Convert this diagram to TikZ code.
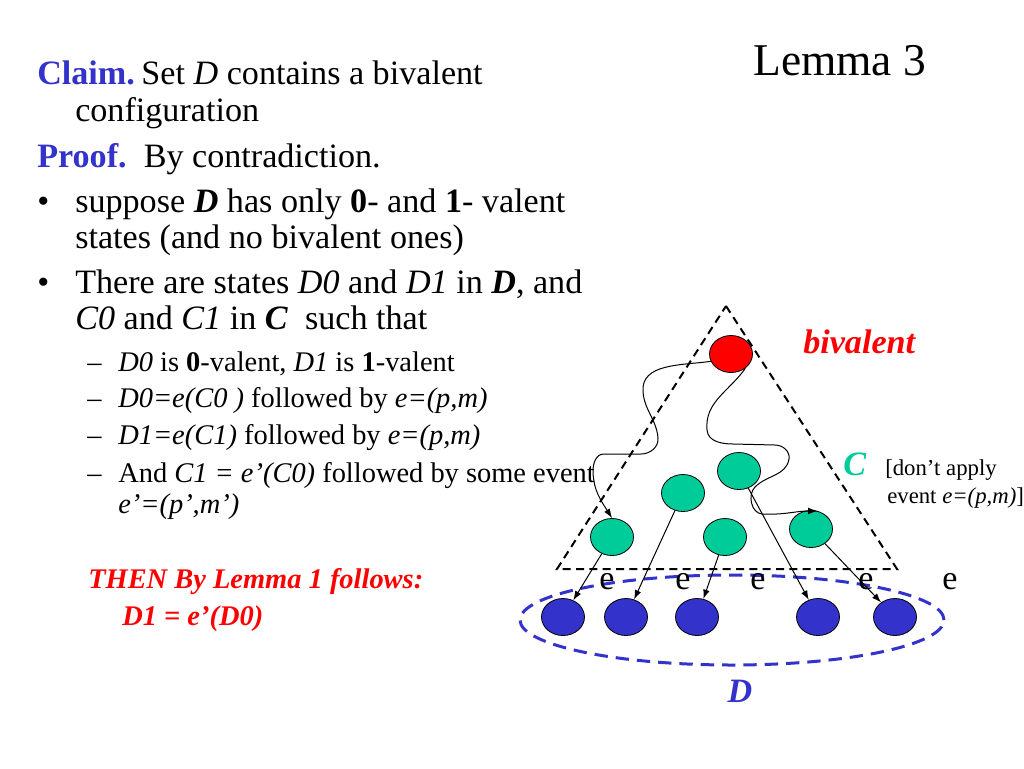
\documentclass[tikz,border=0pt]{standalone}
\usepackage{fontspec}
\setmainfont{Liberation Serif}
\usetikzlibrary{arrows.meta,shapes.geometric}
\definecolor{myblue}{RGB}{51,51,204}
\definecolor{myred}{RGB}{255,0,0}
\definecolor{mygreen}{RGB}{0,204,153}
\begin{document}
\begin{tikzpicture}[x=0.75pt,y=0.75pt,
  maintxt/.style={anchor=base west,inner sep=0pt,font=\fontsize{25.6}{30}\selectfont},
  subtxt/.style={anchor=base west,inner sep=0pt,font=\fontsize{21.33}{25}\selectfont},
  smalltxt/.style={anchor=base west,inner sep=0pt,font=\fontsize{17.07}{20}\selectfont},
  elab/.style={anchor=base,inner sep=0pt,font=\fontsize{25.6}{30}\selectfont},
  state/.style={ellipse,draw=black,line width=0.6pt,minimum width=32.25pt,minimum height=27.75pt,inner sep=0pt},
  redst/.style={state,fill=myred},
  greenst/.style={state,fill=mygreen},
  bluest/.style={state,fill=myblue},
  arr/.style={-{Latex[length=7pt,width=5pt]},line width=0.75pt,black},
  tri/.style={dash pattern=on 6pt off 4pt,line width=1.5pt,black},
  dset/.style={dash pattern=on 10pt off 6pt,line width=2.25pt,myblue}
]
\useasboundingbox (0,0) rectangle (1024,-768);
\fill[white] (0,0) rectangle (1024,-768);

% ---------- left text ----------
\node[maintxt] (claim) at (37,-84) {\textcolor{myblue}{\textbf{Claim.}}\kern-1.5pt\ Set \textit{D} contains a bivalent};
\node[maintxt] (config) at (75,-121) {configuration};
\node[maintxt] (proof) at (37,-167) {\textcolor{myblue}{\textbf{Proof.}}\ \ By contradiction.};
\node[maintxt] (bul1) at (37,-212) {•};
\node[maintxt] (sup1) at (75,-212) {suppose \textbf{\textit{D}} has only \textbf{0}- and \textbf{1}- valent};
\node[maintxt] (sup2) at (75,-248) {states (and no bivalent ones)};
\node[maintxt] (bul2) at (37,-293) {•};
\node[maintxt] (there1) at (75,-293) {There are states \textit{D0} and \textit{D1} in \textbf{\textit{D}}, and};
\node[maintxt] (there2) at (75,-329) {\textit{C0} and \textit{C1} in \textbf{\textit{C}}\ \ such that};

\node[subtxt] (da1) at (87,-371) {–};
\node[subtxt] (s1) at (118,-371) {\textit{D0} is \textbf{0}-valent, \textit{D1} is \textbf{1}-valent};
\node[subtxt] (da2) at (87,-407) {–};
\node[subtxt] (s2) at (118,-407) {\textit{D0=e(C0 )} followed by \textit{e=(p,m)}};
\node[subtxt] (da3) at (87,-444) {–};
\node[subtxt] (s3) at (118,-444) {\textit{D1=e(C1)} followed by \textit{e=(p,m)}};
\node[subtxt] (da4) at (87,-482) {–};
\node[subtxt] (s4) at (118,-482) {And \textit{C1 = e’(C0)} followed by some event};
\node[subtxt] (s5) at (118,-513) {\textit{e’=(p’,m’)}};

\node[subtxt,text=myred,font=\fontsize{21.33}{25}\selectfont\bfseries\itshape] (then) at (88,-588) {THEN By Lemma 1 follows:};
\node[subtxt,text=myred,font=\fontsize{21.33}{25}\selectfont\bfseries\itshape] (res) at (122,-625) {D1 = e’(D0)};

% ---------- title ----------
\node[anchor=base west,inner sep=0pt,font=\fontsize{34.1}{40}\selectfont] (title) at (753,-75) {Lemma 3};

% ---------- diagram ----------
\draw[tri] (726,-306) -- (897,-569) -- (557,-569) -- cycle;
\draw[dset] (732,-620) ellipse [x radius=212, y radius=45];

\node[redst] (r) at (731,-354) {};
\node[greenst] (g1) at (612,-537) {};
\node[greenst] (g2) at (683,-493) {};
\node[greenst] (g3) at (739,-471) {};
\node[greenst] (g4) at (725,-537) {};
\node[greenst] (g5) at (811,-529) {};
\node[bluest] (d1) at (563,-617) {};
\node[bluest] (d2) at (626,-617) {};
\node[bluest] (d3) at (697,-617) {};
\node[bluest] (d4) at (818,-617) {};
\node[bluest] (d5) at (895,-617) {};

\node[elab] (e1) at (607,-589) {e};
\node[elab] (e2) at (683,-589) {e};
\node[elab] (e3) at (758,-589) {e};
\node[elab] (e4) at (866,-589) {e};
\node[elab] (e5) at (950,-589) {e};

\draw[arr] (g1) -- (d1);
\draw[arr] (g2) -- (d2);
\draw[arr] (g4) -- (d3);
\draw[arr] (g3) -- (d4);
\draw[arr] (g5) -- (d5);

\draw[arr] (r.200) to[out=188,in=95] (643,-392) to[out=-85,in=95] (658,-438)
  to[out=-85,in=0] (641,-454) -- (604,-454) to[out=180,in=92] (593,-472)
  to[out=-88,in=122] (g1.north);
\draw[arr] (r.-45) to[out=-125,in=95] (707,-430) to[out=-85,in=180] (733,-444)
  -- (775,-445) to[out=0,in=80] (789,-459) to[out=-100,in=45] (755,-487)
  to[out=-135,in=175] (762,-514) to[out=-3,in=180] (g5.70);

\node[anchor=base west,inner sep=0pt,text=myred,font=\fontsize{25.6}{30}\selectfont\bfseries\itshape] (biv) at (803,-353) {bivalent};
\node[anchor=base west,inner sep=0pt,text=mygreen,font=\fontsize{25.6}{30}\selectfont\bfseries\itshape] (clab) at (843,-475) {C};
\node[smalltxt] (dont1) at (885,-475) {[don’t apply};
\node[smalltxt] (dont2) at (887,-503) {event \textit{e=(p,m)}]};
\node[anchor=base,inner sep=0pt,text=myblue,font=\fontsize{25.6}{30}\selectfont\bfseries\itshape] (dlab) at (740,-702) {D};
\end{tikzpicture}
\end{document}
